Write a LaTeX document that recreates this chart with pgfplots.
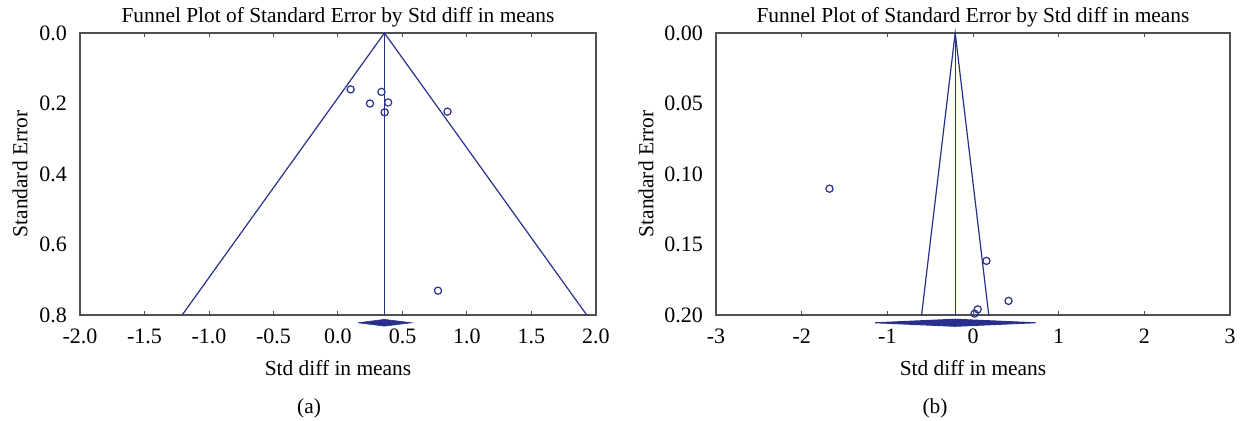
\documentclass[border=0pt]{standalone}
\usepackage{pgfplots}
\pgfplotsset{compat=1.18}
\usepackage{fontspec}
\setmainfont{Liberation Serif}
\definecolor{navy}{RGB}{40,48,140}
\definecolor{axgray}{RGB}{80,80,80}
\pgfplotsset{
  funnel/.style={
    scale only axis, height=141pt,
    y dir=reverse, clip=false,
    axis line style={axgray, line width=0.6pt},
    xtick align=inside, major tick length=2pt,
    every tick/.style={axgray, line width=0.5pt},
    ytick style={draw=none},
    tick label style={font=\fontsize{11}{13}\selectfont},
    /pgf/number format/assume math mode=true,
    xticklabel style={yshift=-3.5pt},
    yticklabel style={xshift=-3pt},
    title style={at={(axis description cs:0.5,1.037)}, anchor=base, yshift=-6pt, font=\fontsize{10.7}{12}\selectfont},
    label style={font=\fontsize{10.7}{12}\selectfont},
    xlabel style={at={(axis description cs:0.5,0)}, anchor=base, yshift=-30pt},
    title={Funnel Plot of Standard Error by Std diff in means},
    xlabel={Std diff in means},
    ylabel={Standard Error},
  }
}
\begin{document}
\begin{tikzpicture}
\useasboundingbox (0,0) rectangle (621pt,-210.5pt);
\begin{axis}[funnel,
  at={(40pt,-157.5pt)}, anchor=south west, width=258pt,
  xmin=-2, xmax=2, ymin=0, ymax=0.8,
  xtick={-2,-1.5,-1,-0.5,0,0.5,1,1.5,2},
  xticklabels={-2.0,-1.5,-1.0,-0.5,0.0,0.5,1.0,1.5,2.0},
  ytick={0,0.2,0.4,0.6,0.8},
  yticklabels={0.0,0.2,0.4,0.6,0.8},
  ylabel style={at={(axis description cs:-0.116,0.5)}, anchor=center},
]
\addplot[navy, line width=0.6pt] coordinates {(-1.208,0.8) (0.36,0) (1.928,0.8)};
\addplot[navy, line width=0.6pt] coordinates {(0.36,0) (0.36,0.8)};
\addplot[navy, fill=navy, line width=0.3pt] coordinates {(0.155,0.822) (0.36,0.8125) (0.570,0.822) (0.36,0.8315) (0.155,0.822)};
\addplot[only marks, mark=o, mark size=1.8pt, navy, mark options={line width=0.6pt}] coordinates {
(0.098,0.160) (0.337,0.167) (0.248,0.200) (0.389,0.197) (0.362,0.225) (0.849,0.223) (0.775,0.731)};
\end{axis}
\begin{axis}[funnel,
  at={(358pt,-157.5pt)}, anchor=south west, width=257pt,
  xmin=-3, xmax=3, ymin=0, ymax=0.2,
  xtick={-3,-2,-1,0,1,2,3},
  xticklabels={-3,-2,-1,0,1,2,3},
  ytick={0,0.05,0.1,0.15,0.2},
  yticklabels={0.00,0.05,0.10,0.15,0.20},
  ylabel style={at={(axis description cs:-0.136,0.5)}, anchor=center},
]
\addplot[navy, line width=0.6pt] coordinates {(-0.600,0.2) (-0.208,0) (0.184,0.2)};
\addplot[navy, line width=0.6pt] coordinates {(-0.208,0) (-0.208,0.2)};
\addplot[navy, fill=navy, line width=0.5pt] coordinates {(-1.142,0.2055) (-0.208,0.2030) (0.730,0.2055) (-0.208,0.2080) (-1.142,0.2055)};
\addplot[only marks, mark=o, mark size=1.8pt, navy, mark options={line width=0.6pt}] coordinates {
(-1.675,0.1104) (0.157,0.1616) (0.415,0.190) (0.055,0.196) (0.018,0.199)};
\end{axis}
\node[font=\fontsize{10.7}{12}\selectfont] at (154.5pt,-204pt) {(a)};
\node[font=\fontsize{10.7}{12}\selectfont] at (467.5pt,-204pt) {(b)};
\end{tikzpicture}
\end{document}
